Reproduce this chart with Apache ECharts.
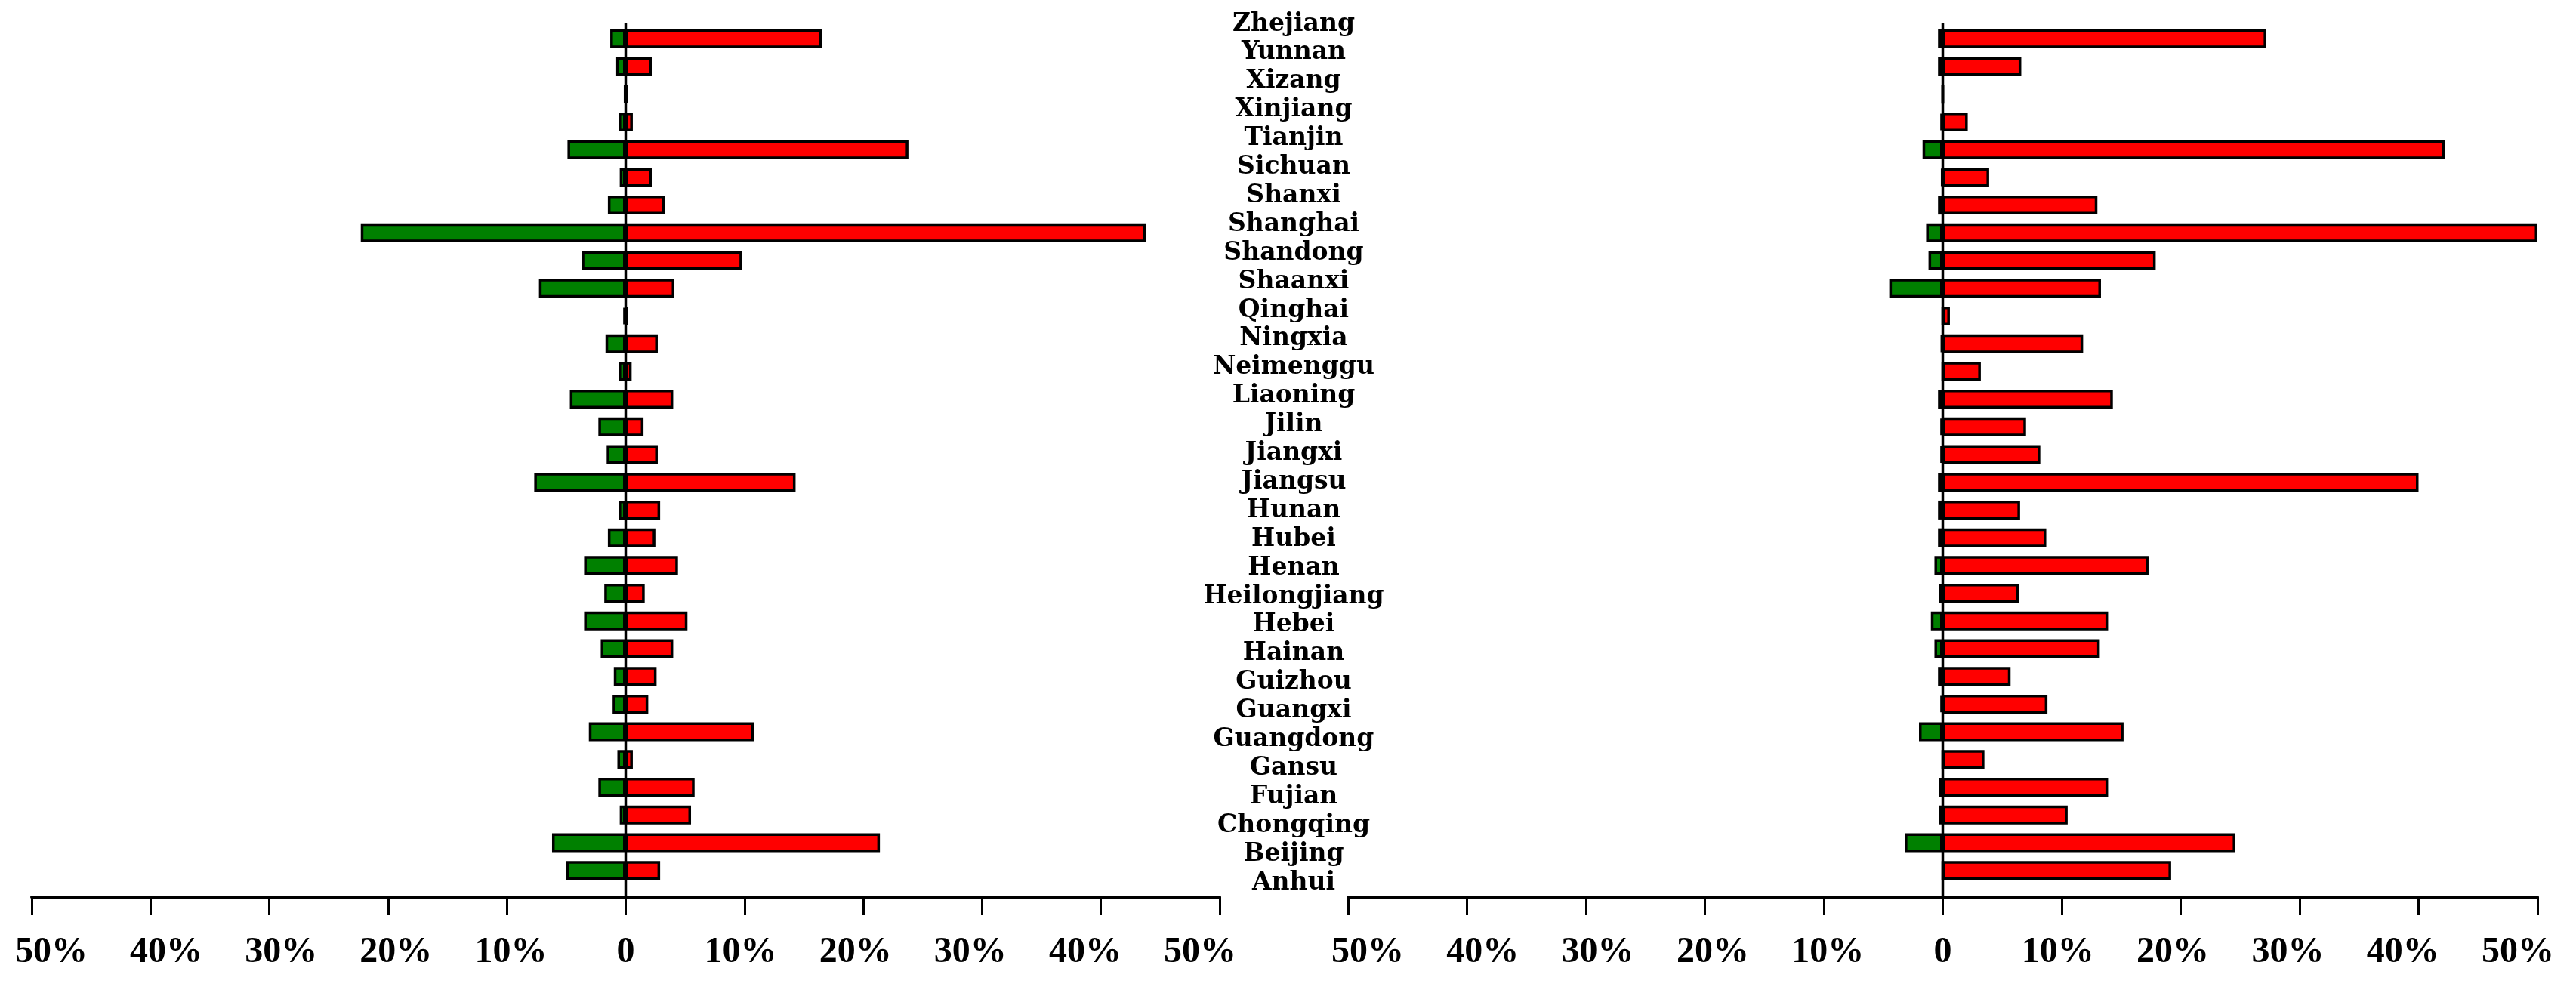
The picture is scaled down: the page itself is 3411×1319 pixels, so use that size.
<!DOCTYPE html>
<html>
<head>
<meta charset="utf-8">
<script src="https://cdn.jsdelivr.net/npm/echarts@6/dist/echarts.min.js"></script>
<style>
html,body{margin:0;padding:0;background:#fff;}
#chart{width:3411px;height:1319px;}
</style>
</head>
<body>
<div id="chart"></div>
<script>
// Categories listed bottom-to-top
const categories = ['Anhui','Beijing','Chongqing','Fujian','Gansu','Guangdong','Guangxi','Guizhou','Hainan','Hebei','Heilongjiang','Henan','Hubei','Hunan','Jiangsu','Jiangxi','Jilin','Liaoning','Neimenggu','Ningxia','Qinghai','Shaanxi','Shandong','Shanghai','Shanxi','Sichuan','Tianjin','Xinjiang','Xizang','Yunnan','Zhejiang'];

// Left panel
const leftGreen = [-5.0,-6.2,-0.5,-2.3,-0.7,-3.1,-1.1,-1.0,-2.1,-3.5,-1.8,-3.5,-1.5,-0.6,-7.7,-1.6,-2.3,-4.7,-0.6,-1.7,-0.2,-7.3,-3.7,-22.3,-1.5,-0.5,-4.9,-0.6,-0.1,-0.8,-1.3];
const leftRed = [2.9,21.4,5.5,5.8,0.6,10.8,1.9,2.6,4.0,5.2,1.6,4.4,2.5,2.9,14.3,2.7,1.5,4.0,0.5,2.7,0.1,4.1,9.8,43.8,3.3,2.2,23.8,0.6,0.1,2.2,16.5];

// Right panel
const rightGreen = [0,-3.2,-0.3,-0.3,0,-2.0,-0.2,-0.4,-0.7,-1.0,-0.3,-0.7,-0.4,-0.4,-0.4,-0.2,-0.2,-0.4,0,-0.15,0,-4.5,-1.2,-1.4,-0.4,-0.1,-1.7,-0.2,0,-0.4,-0.4];
const rightRed = [19.2,24.6,10.5,13.9,3.5,15.2,8.8,5.7,13.2,13.9,6.4,17.3,8.7,6.5,40.0,8.2,7.0,14.3,3.2,11.8,0.6,13.3,17.9,50,13.0,3.9,42.2,2.1,0,6.6,27.2];

// Tick values of the percentage axes
const tickValues = [-50,-40,-30,-20,-10,0,10,20,30,40,50];

const GREEN = '#008000', RED = '#ff0000';
const tickFont = {fontFamily:'Liberation Serif', fontWeight:'bold', fontSize:48, color:'#000'};

const rich = {};
tickValues.forEach((v, i) => {
  const shift = -v * 0.52;
  rich['t' + i] = Object.assign({}, tickFont, {
    padding: shift > 0 ? [0, 0, 0, 2 * shift] : [0, -2 * shift, 0, 0]
  });
});
function tickFmt(v) {
  const i = tickValues.indexOf(Math.round(v));
  const txt = v === 0 ? '0' : Math.abs(v) + '%';
  return i >= 0 ? '{t' + i + '|' + txt + '}' : txt;
}

const GRID_TOP = 33, GRID_H = 1138, AXIS_OFF = 17;

function valueAxis(gi) {
  return {
    type: 'value', gridIndex: gi, min: -50, max: 50, interval: 10,
    position: 'bottom', offset: AXIS_OFF,
    axisLine: {show: true, onZero: false, lineStyle: {color: '#000', width: 4}},
    axisTick: {show: true, length: 24, lineStyle: {color: '#000', width: 3}},
    splitLine: {show: false},
    axisLabel: Object.assign({margin: 50, formatter: tickFmt, rich: rich}, tickFont)
  };
}
function catAxis(gi) {
  return {
    type: 'category', gridIndex: gi, data: categories,
    axisLine: {show: false}, axisTick: {show: false}, axisLabel: {show: false}
  };
}
function barSeries(name, data, color, xi, stack) {
  return {
    name: name, type: 'bar', xAxisIndex: xi, yAxisIndex: xi, stack: stack,
    data: data, barWidth: 25,
    itemStyle: {color: color, borderColor: '#000', borderWidth: 3.5},
    z: 3
  };
}

const chart = echarts.init(document.getElementById('chart'));
chart.setOption({
  animation: false,
  backgroundColor: '#fff',
  grid: [
    {left: 42, top: GRID_TOP, width: 1573, height: GRID_H},
    {left: 1785, top: GRID_TOP, width: 1575, height: GRID_H},
    {left: 1713, top: 13, width: 1, height: 1175}
  ],
  xAxis: [valueAxis(0), valueAxis(1), {type: 'value', gridIndex: 2, show: false}],
  yAxis: [
    catAxis(0), catAxis(1),
    {
      type: 'category', gridIndex: 2, data: categories, position: 'left',
      axisLine: {show: false}, axisTick: {show: false},
      axisLabel: {show: true, interval: 0, margin: 0, align: 'center',
        fontFamily: 'DejaVu Serif', fontWeight: 'bold', fontSize: 33, color: '#000'}
    }
  ],
  series: [
    barSeries('left-neg', leftGreen, GREEN, 0, 'L'),
    barSeries('left-pos', leftRed, RED, 0, 'L'),
    barSeries('right-neg', rightGreen, GREEN, 1, 'R'),
    barSeries('right-pos', rightRed, RED, 1, 'R')
  ]
});

// zero reference lines spanning from the top of the plot down to the axis line
const axisY = GRID_TOP + GRID_H + AXIS_OFF;
const x0L = chart.convertToPixel({xAxisIndex: 0}, 0);
const x0R = chart.convertToPixel({xAxisIndex: 1}, 0);
chart.setOption({
  graphic: [x0L, x0R].map(x => ({
    type: 'line', z: 100, silent: true,
    shape: {x1: x, y1: 31, x2: x, y2: axisY},
    style: {stroke: '#000', lineWidth: 3.5}
  }))
});
</script>
</body>
</html>
